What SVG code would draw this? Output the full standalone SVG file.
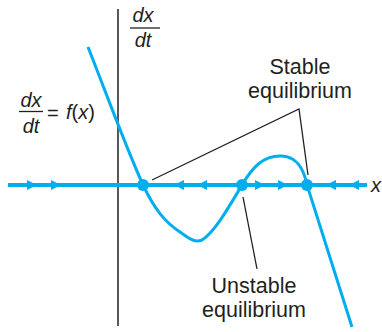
<svg xmlns="http://www.w3.org/2000/svg" width="382" height="332" viewBox="0 0 382 332">
<style>
.lbl{font-family:"Liberation Sans",Arial,sans-serif;font-size:21.5px;fill:#231f20}
.math{font-family:"Liberation Sans",Arial,sans-serif;font-size:20px;font-style:italic;fill:#231f20}
.up{font-family:"Liberation Sans",Arial,sans-serif;font-size:20px;fill:#231f20}
.leader{stroke:#231f20;stroke-width:1.3;fill:none}
.blue{stroke:#00aeef;fill:none}
.arr{fill:#00aeef}
.dot{fill:#00aeef}
</style>
<rect width="382" height="332" fill="#ffffff"/>
<g id="axes">
  <line x1="118" y1="9" x2="118" y2="326" stroke="#231f20" stroke-width="1.5"/>
  <line class="blue" x1="8" y1="185" x2="367" y2="185" stroke-width="4"/>
</g>
<g id="curve">
  <path class="blue" stroke-width="3" d="M88,47 C105,90 125,145 143,185 C155,210 165,222 180,232 C190,239 195,243 202,240 C215,232 230,205 242,185 C252,168 263,155 282,156 C298,157 304,170 307,185 L352,327"/>
</g>
<g id="connectors">
  <polyline class="leader" points="152,180 299,109 308,175"/>
  <line class="leader" x1="243" y1="197" x2="257" y2="269"/>
</g>
<g id="flow-arrows">
  <polygon class="arr" points="27,180 27,190 37,185"/>
  <polygon class="arr" points="51,180 51,190 61,185"/>
  <polygon class="arr" points="184,180 184,190 174,185"/>
  <polygon class="arr" points="207,180 207,190 197,185"/>
  <polygon class="arr" points="255,180 255,190 265,185"/>
  <polygon class="arr" points="278,180 278,190 288,185"/>
  <polygon class="arr" points="336,180 336,190 326,185"/>
  <polygon class="arr" points="359,180 359,190 349,185"/>
</g>
<g id="eq1"><circle class="dot" cx="143" cy="185" r="6"/></g>
<g id="eq2"><circle class="dot" cx="242" cy="185" r="6"/></g>
<g id="eq3"><circle class="dot" cx="307" cy="185" r="6"/></g>
<g id="axis-label-y">
  <text class="math" x="143" y="22" text-anchor="middle">dx</text>
  <line x1="130" y1="28" x2="160" y2="28" stroke="#231f20" stroke-width="1.3"/>
  <text class="math" x="143" y="47" text-anchor="middle">dt</text>
</g>
<g id="axis-label-x">
  <text class="math" x="371" y="192">x</text>
</g>
<g id="func-label">
  <text class="math" x="31" y="106.5" text-anchor="middle">dx</text>
  <line x1="19" y1="111.5" x2="43" y2="111.5" stroke="#231f20" stroke-width="1.3"/>
  <text class="math" x="31" y="133" text-anchor="middle">dt</text>
  <text class="up" x="47" y="120">=</text>
  <text class="math" x="66" y="119" font-size="21.5">f<tspan font-style="normal">(</tspan>x<tspan font-style="normal">)</tspan></text>
</g>
<g id="stable-label">
  <text class="lbl" x="300" y="74" text-anchor="middle">Stable</text>
  <text class="lbl" x="300" y="98" text-anchor="middle">equilibrium</text>
</g>
<g id="unstable-label">
  <text class="lbl" x="254" y="293" text-anchor="middle">Unstable</text>
  <text class="lbl" x="254" y="317" text-anchor="middle">equilibrium</text>
</g>
</svg>
